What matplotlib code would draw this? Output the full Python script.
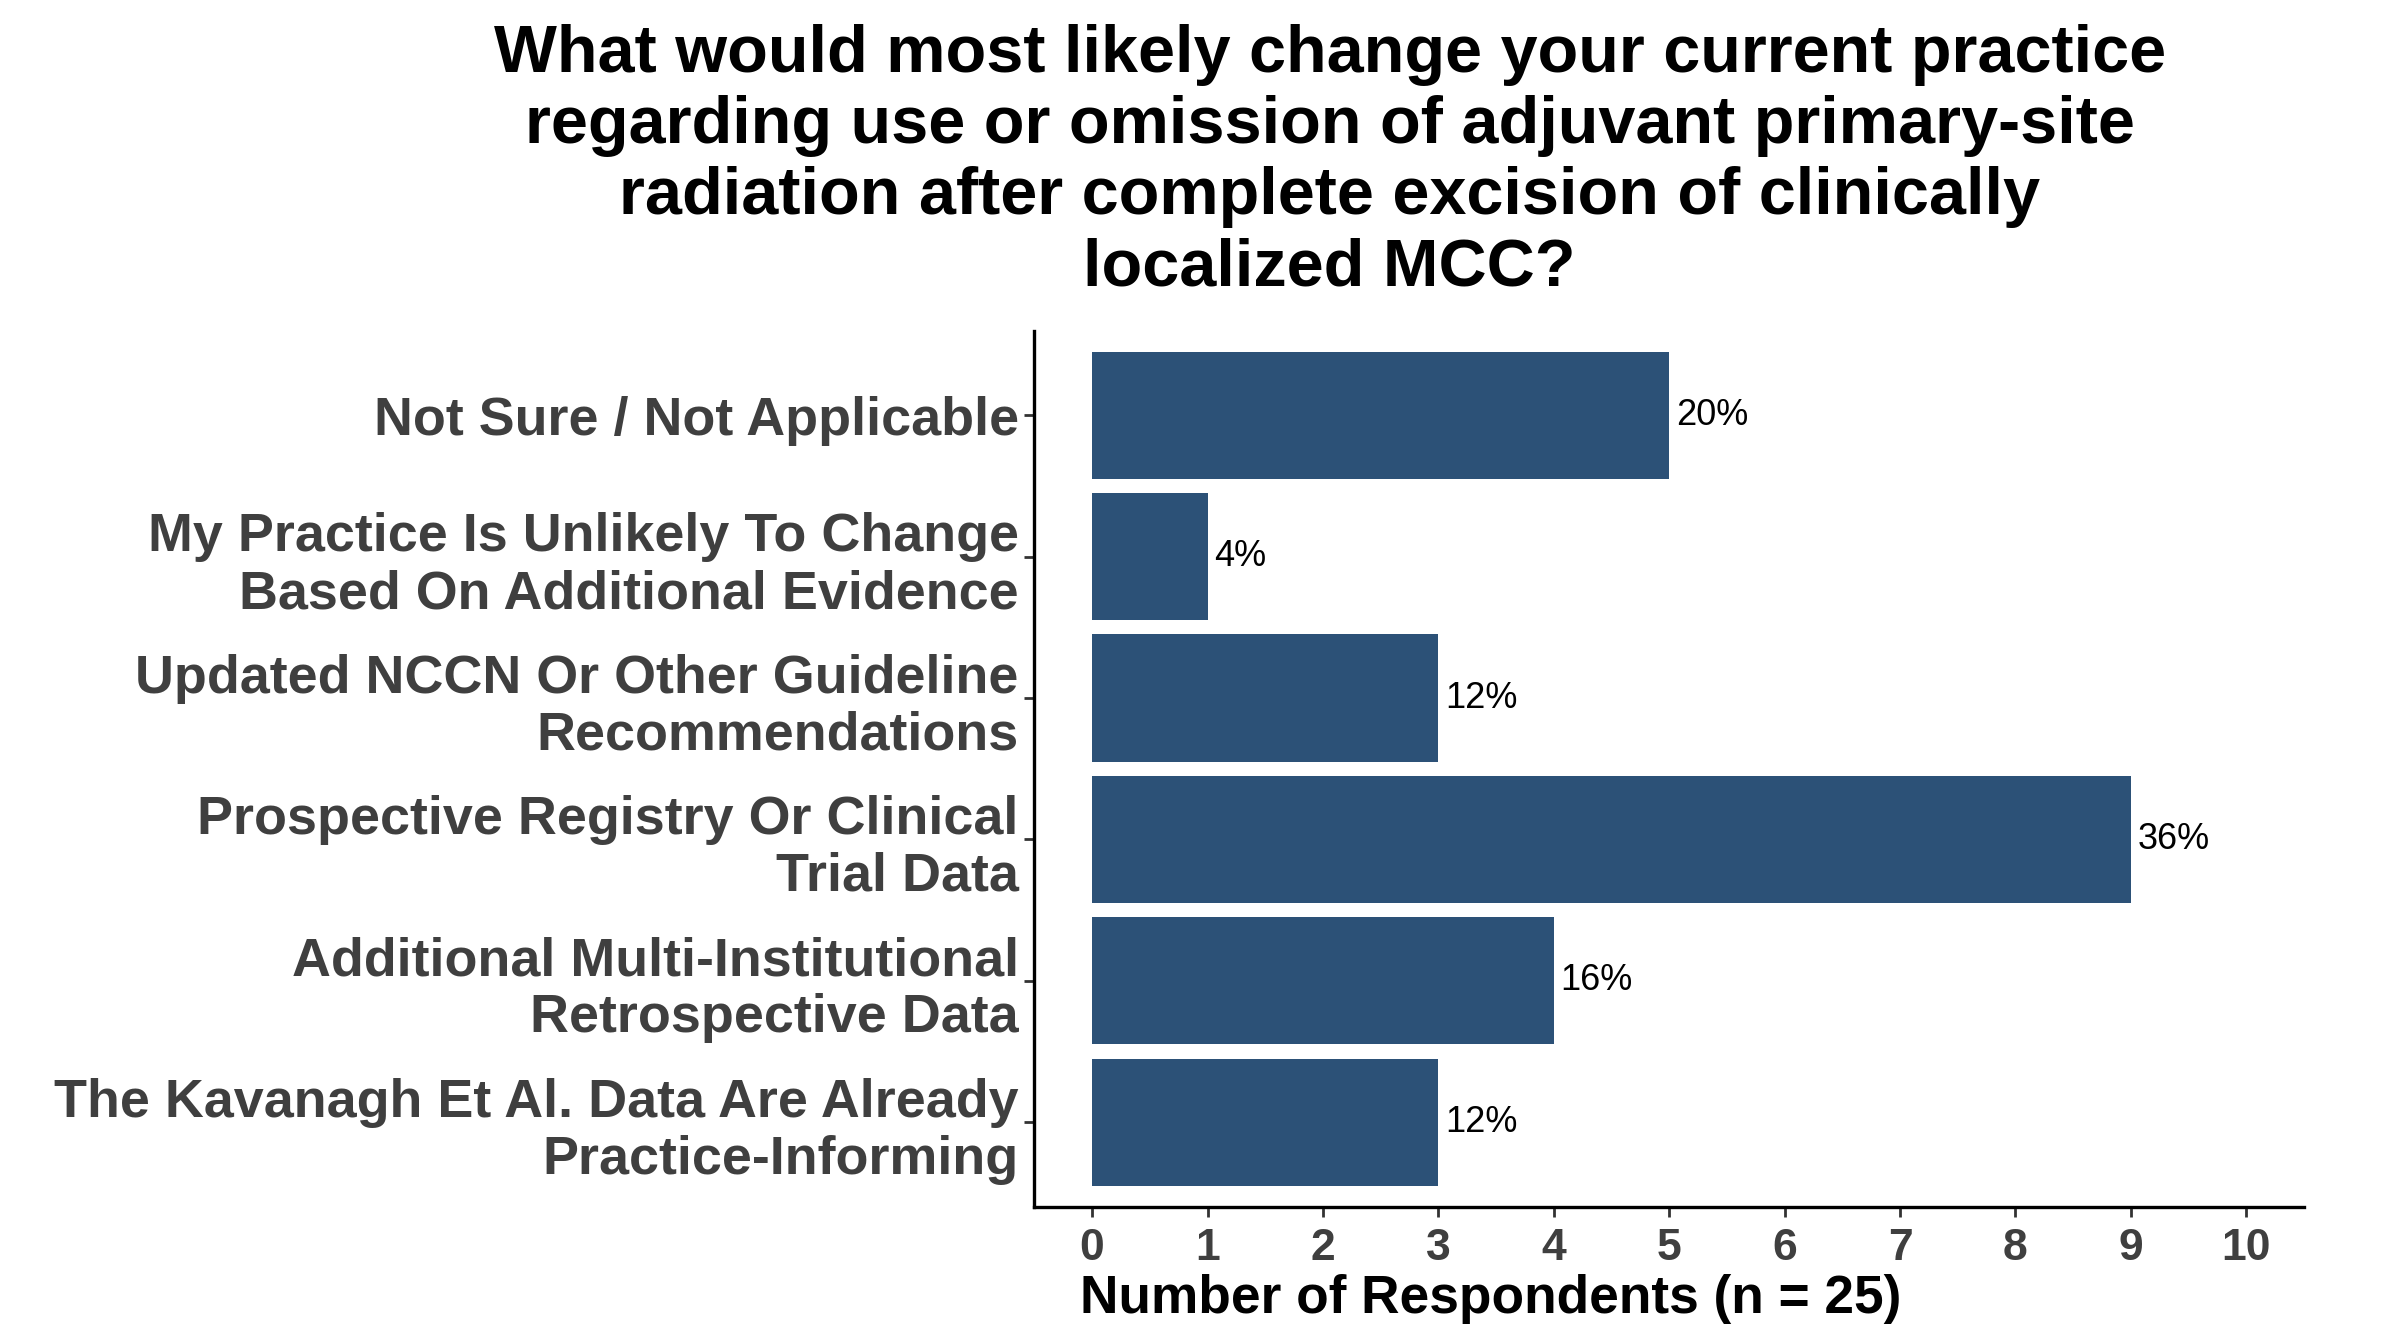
import numpy as np
import matplotlib
matplotlib.use('Agg')
import matplotlib.pyplot as plt

plt.rcParams['font.family'] = ['Liberation Sans', 'DejaVu Sans']

categories = ['The Kavanagh Et Al. Data Are Already\nPractice-Informing',
              'Additional Multi-Institutional\nRetrospective Data',
              'Prospective Registry Or Clinical\nTrial Data',
              'Updated NCCN Or Other Guideline\nRecommendations',
              'My Practice Is Unlikely To Change\nBased On Additional Evidence',
              'Not Sure / Not Applicable']
counts = [3, 4, 9, 3, 1, 5]
pct_labels = ['12%', '16%', '36%', '12%', '4%', '20%']
xticks = list(range(0, 11))

title = ('What would most likely change your current practice\n'
         'regarding use or omission of adjuvant primary-site\n'
         'radiation after complete excision of clinically\n'
         'localized MCC?')

bar_col = '#2c5177'
grey = '#3f3f3f'

fig = plt.figure(figsize=(12, 6.72), dpi=200)
ax = fig.add_axes([0.431, 0.102, 0.529, 0.652])

y = np.arange(1, len(categories) + 1)
ax.barh(y, counts, height=0.9, color=bar_col)
for yi, c, lab in zip(y, counts, pct_labels):
    ax.text(c + 0.06, yi, lab, va='center', ha='left', fontsize=13, color='black')

ax.set_xlim(-0.5, 10.5)
ax.set_ylim(0.4, 6.6)
ax.set_xticks(xticks)
ax.set_xticklabels([str(t) for t in xticks], fontsize=16, fontweight='bold', color=grey)
ax.set_yticks(y)
ax.set_yticklabels(categories, fontsize=19.4, fontweight='bold', color=grey, linespacing=1.18)
ax.tick_params(axis='both', length=3.6, width=1, color='#333333')
ax.tick_params(axis='x', pad=4)
ax.tick_params(axis='y', pad=2)

for s in ['top', 'right']:
    ax.spines[s].set_visible(False)
ax.spines['left'].set_linewidth(1.2)
ax.spines['bottom'].set_linewidth(1.2)

ax.set_xlabel('Number of Respondents (n = 25)', fontsize=19.2, fontweight='bold', color='black',
              ha='left')
ax.xaxis.set_label_coords(0.036, -0.077)

fig.text(0.554, 0.982, title, ha='center', va='top', fontsize=24, fontweight='bold',
         linespacing=1.19, multialignment='center')

fig.savefig('out.png', dpi=200)
